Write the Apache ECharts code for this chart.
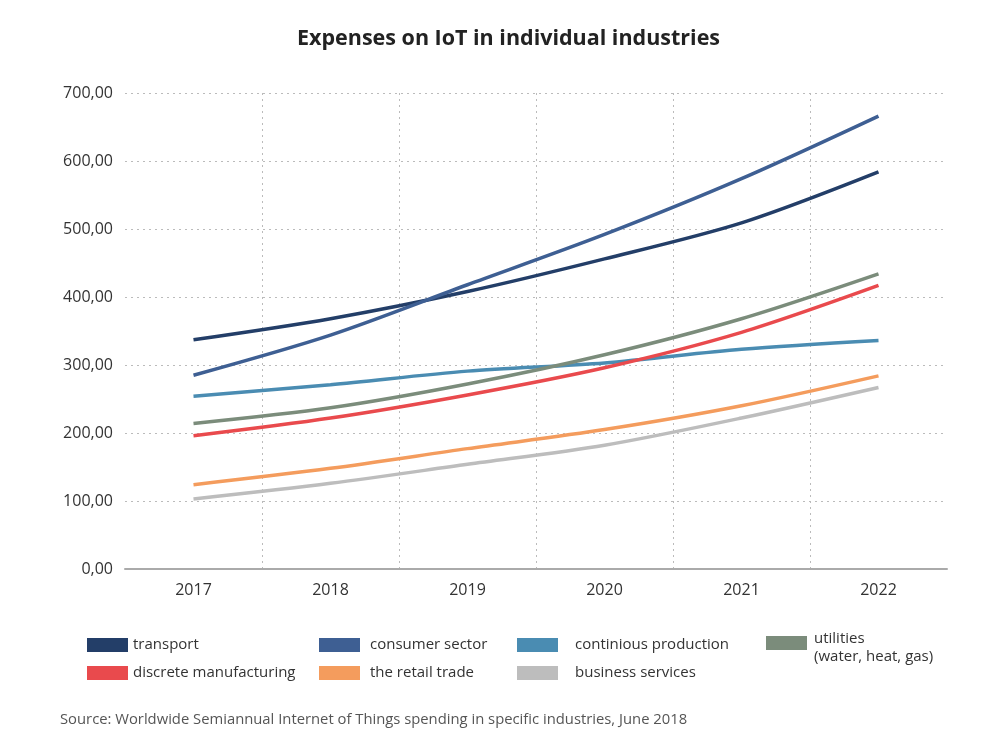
<!DOCTYPE html>
<html>
<head>
<meta charset="utf-8">
<script src="https://cdn.jsdelivr.net/npm/echarts@6/dist/echarts.min.js"></script>
<style>
  html, body { margin: 0; padding: 0; background: #fff; }
  #chart { width: 995px; height: 742px; }
</style>
</head>
<body>
<div id="chart"></div>
<script>
const years = ["2017", "2018", "2019", "2020", "2021", "2022"];

const transport = [337, 368, 408, 456, 509, 584];
const consumerSector = [285, 344, 418, 492, 574, 666];
const continiousProduction = [254, 271, 291, 303, 323, 336];
const utilities = [214, 237, 272, 315, 368, 434];
const discreteManufacturing = [196, 222, 256, 296, 348, 417];
const retailTrade = [124, 148, 177, 205, 240, 284];
const businessServices = [103, 126, 154, 182, 222, 267];

const fontFamily = "'Open Sans', 'DejaVu Sans', sans-serif";

const chart = echarts.init(document.getElementById("chart"));

function line(name, data, color) {
  return {
    name,
    type: "line",
    data,
    smooth: 0.3,
    symbol: "none",
    lineStyle: { color, width: 3.5 },
    itemStyle: { color },
  };
}

function legendColumn(left, names, textPad) {
  return {
    left,
    top: 636,
    orient: "vertical",
    icon: "rect",
    itemWidth: 41,
    itemHeight: 14,
    itemGap: 10,
    padding: 0,
    selectedMode: false,
    data: names,
    textStyle: {
      fontFamily,
      fontSize: 15,
      color: "#333",
      padding: [0, 0, 0, textPad],
      lineHeight: 18,
    },
  };
}

// two-line entry: a short blank first line pushes the text below the swatch middle
const utilitiesLegend = legendColumn(766, ["utilities (water, heat, gas)"], 2);
utilitiesLegend.top = 620;
utilitiesLegend.formatter = () => "{gap| }\n{t|utilities}\n{t|(water, heat, gas)}";
utilitiesLegend.textStyle = {
  ...utilitiesLegend.textStyle,
  rich: {
    gap: { lineHeight: 10, fontSize: 8 },
    t: { fontFamily, fontSize: 15, color: "#333", lineHeight: 18 },
  },
};

const options = {
  animation: false,
  title: {
    text: "Expenses on IoT in individual industries",
    left: 292,
    top: 23,
    textStyle: { fontFamily, fontSize: 21.5, fontWeight: "bold", color: "#222" },
  },
  legend: [
    legendColumn(87, ["transport", "discrete manufacturing"], 0),
    legendColumn(319, ["consumer sector", "the retail trade"], 5),
    legendColumn(517, ["continious production", "business services"], 12),
    utilitiesLegend,
  ],
  graphic: [
    {
      type: "text",
      left: 60,
      top: 712,
      style: {
        text: "Source: Worldwide Semiannual Internet of Things spending in specific industries, June 2018",
        fontFamily,
        fontSize: 14.8,
        fill: "#555",
      },
    },
  ],
  grid: { left: 125, right: 48, top: 93, bottom: 173 },
  xAxis: {
    type: "category",
    boundaryGap: true,
    data: years,
    axisLine: { lineStyle: { color: "#aaa", width: 2 } },
    axisTick: { show: false },
    axisLabel: { fontFamily, fontSize: 16, color: "#333", margin: 13 },
    splitLine: {
      show: true,
      interval: 0,
      showMinLine: false,
      showMaxLine: false,
      lineStyle: { color: "#bbb", type: [2, 4], width: 1 },
    },
  },
  yAxis: {
    type: "value",
    min: 0,
    max: 700,
    interval: 100,
    axisLine: { show: false },
    axisTick: { show: false },
    axisLabel: {
      fontFamily,
      fontSize: 16,
      color: "#333",
      margin: 12,
      formatter: value => value.toFixed(2).replace(".", ","),
    },
    splitLine: { lineStyle: { color: "#bbb", type: [2, 4], width: 1 } },
  },
  series: [
    line("transport", transport, "#233e68"),
    line("consumer sector", consumerSector, "#3e5f93"),
    line("continious production", continiousProduction, "#4a8cb2"),
    line("utilities (water, heat, gas)", utilities, "#7b8c7b"),
    line("discrete manufacturing", discreteManufacturing, "#e94a4d"),
    line("the retail trade", retailTrade, "#f49c5d"),
    line("business services", businessServices, "#bdbdbd"),
  ],
};

chart.setOption(options);
</script>
</body>
</html>
